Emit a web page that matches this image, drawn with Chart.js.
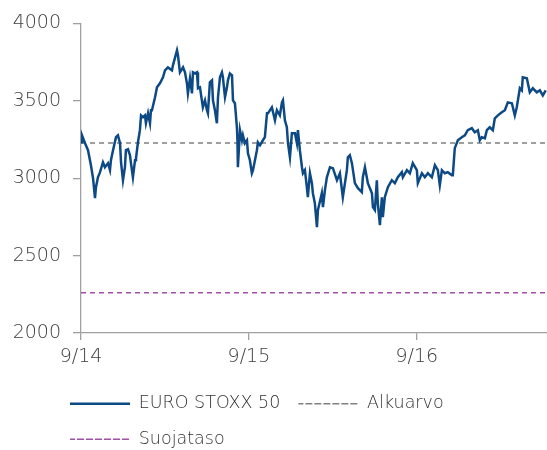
<!DOCTYPE html>
<html>
<head>
<meta charset="utf-8">
<script src="https://cdn.jsdelivr.net/npm/chart.js@4/dist/chart.umd.min.js"></script>
<style>
  html, body { margin: 0; padding: 0; background: #fff; }
  #wrap { width: 547px; height: 450px; }
</style>
</head>
<body>
<div id="wrap"><canvas id="line-chart"></canvas></div>
<script>
// months since 9/2014
var months = [0,0.07,0.29,0.5,0.64,0.71,0.86,1.0,1.07,1.21,
  1.36,1.57,1.71,1.93,2.07,2.14,2.29,2.5,2.64,2.79,
  2.86,3.0,3.14,3.21,3.36,3.5,3.57,3.71,3.86,3.93,
  4.07,4.21,4.29,4.43,4.57,4.64,4.79,4.93,5.0,5.07,
  5.29,5.43,5.64,5.86,6.0,6.21,6.5,6.57,6.86,6.93,
  7.07,7.29,7.43,7.57,7.64,7.79,7.93,8.0,8.14,8.29,
  8.36,8.5,8.71,8.86,9.0,9.07,9.21,9.36,9.43,9.57,
  9.71,9.79,9.93,10.07,10.14,10.29,10.43,10.5,10.64,10.79,
  10.86,11.0,11.14,11.18,11.21,11.36,11.5,11.57,11.71,11.86,
  11.93,12.07,12.21,12.29,12.43,12.57,12.64,12.79,13.0,13.14,
  13.29,13.36,13.64,13.86,14.0,14.21,14.36,14.43,14.57,14.71,
  14.79,14.93,15.07,15.29,15.43,15.5,15.64,15.79,15.86,16.0,
  16.14,16.21,16.36,16.5,16.57,16.71,16.86,16.93,17.21,17.29,
  17.43,17.57,17.79,18.0,18.29,18.5,18.71,19.0,19.07,19.21,
  19.36,19.57,19.79,20.07,20.14,20.29,20.5,20.79,20.86,21.0,
  21.14,21.21,21.36,21.5,21.57,21.71,21.93,22.21,22.43,22.64,
  22.93,23.0,23.29,23.5,23.71,24.0,24.07,24.36,24.57,24.79,
  25.07,25.29,25.5,25.64,25.79,26.0,26.21,26.5,26.57,26.71,
  26.93,27.21,27.43,27.64,27.93,28.14,28.36,28.5,28.64,28.86,
  29.0,29.21,29.43,29.57,29.79,30.07,30.29,30.5,30.79,31.0,
  31.14,31.36,31.5,31.57,31.86,32.07,32.29,32.57,32.79,33.0,
  33.21];

var stoxx = [3232,3277,3226,3181,3116,3084,3000,2871,2942,3006,
  3039,3103,3071,3097,3052,3116,3181,3265,3277,3226,
  3103,2987,3071,3181,3187,3148,3097,3006,3116,3129,
  3232,3310,3406,3394,3406,3355,3419,3355,3439,3439,
  3523,3587,3613,3652,3697,3716,3697,3729,3826,3794,
  3684,3716,3684,3613,3548,3645,3548,3684,3677,3684,
  3581,3587,3458,3503,3439,3419,3619,3632,3503,3439,
  3355,3523,3652,3684,3652,3523,3587,3632,3677,3665,
  3503,3484,3329,3245,3071,3310,3245,3277,3226,3245,
  3161,3116,3032,3052,3116,3181,3232,3213,3245,3265,
  3419,3419,3458,3374,3439,3406,3490,3503,3374,3329,
  3226,3135,3290,3290,3226,3310,3181,3071,3032,3052,
  2942,2877,3032,2968,2903,2839,2684,2794,2903,2813,
  2923,3006,3071,3065,2987,3032,2877,3052,3135,3148,
  3097,2968,2935,2910,3006,3071,2968,2903,2813,2794,
  2987,2839,2697,2877,2748,2877,2942,2987,2968,3006,
  3039,3006,3052,3032,3097,3052,2968,3032,3006,3032,
  3006,3084,3052,2955,3052,3032,3039,3019,3019,3194,
  3245,3265,3277,3310,3323,3297,3310,3245,3265,3258,
  3310,3329,3310,3387,3406,3426,3439,3490,3484,3406,
  3458,3581,3568,3652,3645,3555,3581,3555,3568,3535,
  3568];

var alkuarvo = [3228, 3228];
var suojataso = [2260, 2260];
var levelRange = [0, 33.3];

var tickMonths = [0, 12, 24];
var tickLabels = ['9/14', '9/15', '9/16'];

function pairs(xs, ys) {
  return xs.map(function(x, i) { return { x: x, y: ys[i] }; });
}

// nudge legend so it starts under the y axis like the original
var legendShift = {
  id: 'legendShift',
  afterLayout: function(chart) {
    chart.legend.left = 52;
    chart.legend.top += 8;
  }
};

var tickFont = { family: 'DejaVu Sans', size: 19, weight: 200 };

new Chart(document.getElementById('line-chart'), {
  type: 'line',
  data: {
    datasets: [{
        label: 'EURO STOXX 50',
        data: pairs(months, stoxx),
        borderColor: '#0d4a85',
        backgroundColor: '#0d4a85',
        borderWidth: 2.5,
        pointRadius: 0,
        fill: false
      }, {
        label: 'Alkuarvo',
        data: pairs(levelRange, alkuarvo),
        borderColor: '#808080',
        backgroundColor: 'transparent',
        borderWidth: 1.5,
        borderDash: [5, 4],
        pointRadius: 0,
        fill: false
      }, {
        label: 'Suojataso',
        data: pairs(levelRange, suojataso),
        borderColor: '#a050a8',
        backgroundColor: 'transparent',
        borderWidth: 1.5,
        borderDash: [5, 4],
        pointRadius: 0,
        fill: false
      }]
  },
  options: {
    responsive: true,
    maintainAspectRatio: false,
    animation: false,
    layout: {
      padding: { top: 23, right: 0, left: 0, bottom: 0 }
    },
    scales: {
      x: {
        type: 'linear',
        min: 0,
        max: 33.3,
        afterBuildTicks: function(scale) {
          scale.ticks = tickMonths.map(function(v) { return { value: v }; });
        },
        afterFit: function(scale) { scale.height = 36; },
        grid: { drawOnChartArea: false, tickLength: 7, color: '#a0a0a0', lineWidth: 1.3 },
        border: { color: '#a0a0a0', width: 1.3 },
        ticks: {
          padding: 6,
          maxRotation: 0,
          color: '#404040',
          font: tickFont,
          callback: function(v) { return tickLabels[tickMonths.indexOf(v)]; }
        }
      },
      y: {
        min: 2000,
        max: 4000,
        afterFit: function(scale) { scale.width = 81; },
        grid: { drawOnChartArea: false, tickLength: 8, color: '#a0a0a0', lineWidth: 1.3 },
        border: { color: '#a0a0a0', width: 1.3 },
        ticks: {
          stepSize: 500,
          padding: 12,
          color: '#404040',
          font: tickFont,
          callback: function(v) { return String(v); }
        }
      }
    },
    plugins: {
      legend: {
        position: 'bottom',
        align: 'start',
        labels: {
          boxWidth: 60,
          boxHeight: 0,
          padding: 18,
          color: '#333',
          font: { family: 'DejaVu Sans', size: 17.5, weight: 200 }
        }
      },
      tooltip: { enabled: false }
    }
  },
  plugins: [legendShift]
});
</script>
</body>
</html>
